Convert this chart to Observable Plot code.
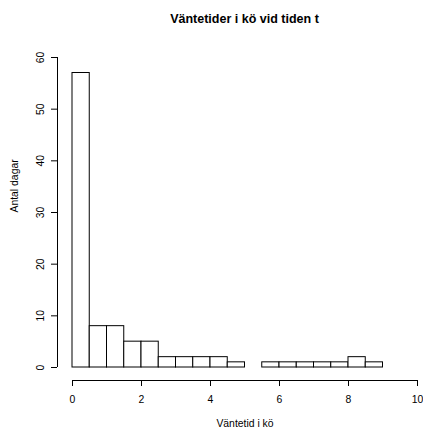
<!DOCTYPE html>
<html>
<head>
<meta charset="utf-8">
<script src="https://cdn.jsdelivr.net/npm/d3@7"></script>
<script src="https://cdn.jsdelivr.net/npm/@observablehq/plot@0.6"></script>
<style>
  html, body { margin: 0; padding: 0; background: #fff; }
  #wrap { width: 423px; height: 431px; position: relative; font-family: "Liberation Sans", Arial, Helvetica, sans-serif; }
  #title { position: absolute; left: 72px; width: 345px; top: 12px; text-align: center;
           font-weight: bold; font-size: 12.5px; line-height: 14px; color: #000; }
  #chart { position: absolute; left: 0; top: 30px; }
</style>
</head>
<body>
<div id="wrap">
  <div id="title">Väntetider i kö vid tiden t</div>
  <div id="chart"></div>
</div>
<script>
const breaks = [0, 0.5, 1, 1.5, 2, 2.5, 3, 3.5, 4, 4.5, 5, 5.5, 6, 6.5, 7, 7.5, 8, 8.5, 9];
const counts = [57, 8, 8, 5, 5, 2, 2, 2, 2, 1, 0, 1, 1, 1, 1, 1, 2, 1];
const xTicks = [0, 2, 4, 6, 8, 10];
const yTicks = [0, 10, 20, 30, 40, 50, 60];
const xLabel = "Väntetid i kö";
const yLabel = "Antal dagar";

const bins = counts.map((c, i) => ({x1: breaks[i], x2: breaks[i + 1], count: c}));

const font = "Liberation Sans, Arial, Helvetica, sans-serif";

const plot = Plot.plot({
  width: 423,
  height: 401,
  marginLeft: 72,
  marginRight: 6,
  marginTop: 27,
  marginBottom: 64,
  style: {fontFamily: font, fontSize: "10.4px", color: "#000", background: "#fff"},
  x: {domain: [0, 10], axis: null},
  y: {domain: [0, 60], axis: null},
  marks: [
    Plot.rectY(bins, {x1: "x1", x2: "x2", y: "count", fill: "white", stroke: "black", strokeWidth: 1, inset: 0}),
    // x axis
    Plot.ruleY([0], {x1: 0, x2: 10, dy: 13, stroke: "black"}),
    Plot.axisX(xTicks, {anchor: "bottom", tickSize: 6, tickPadding: 9, dy: 13, label: null, stroke: "black", fill: "black", fontSize: 10.4}),
    Plot.text([xLabel], {frameAnchor: "bottom", dy: 56, lineAnchor: "middle", fontSize: 10.4, fill: "black"}),
    // y axis
    Plot.ruleX([0], {y1: 0, y2: 60, dx: -15, stroke: "black"}),
    Plot.axisY(yTicks, {anchor: "left", tickSize: 6, tickPadding: 8, dx: -15, tickRotate: -90, label: null, stroke: "black", fill: "black", fontSize: 10.4}),
    Plot.text([yLabel], {frameAnchor: "left", dx: -58, rotate: -90, lineAnchor: "middle", fontSize: 10.4, fill: "black"})
  ]
});
document.getElementById("chart").appendChild(plot);
</script>
</body>
</html>
